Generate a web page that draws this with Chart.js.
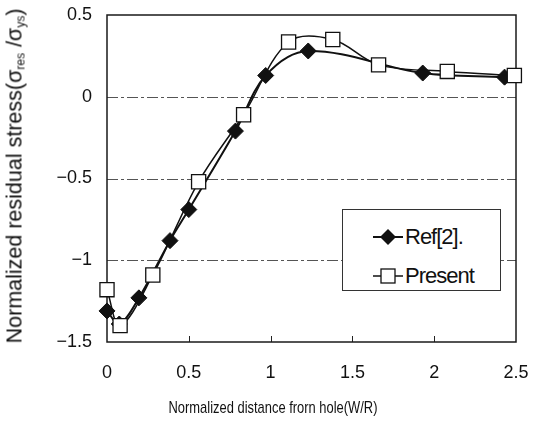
<!DOCTYPE html>
<html>
<head>
<meta charset="utf-8">
<script src="https://cdn.jsdelivr.net/npm/chart.js@4.4.0/dist/chart.umd.min.js"></script>
<style>
    html, body { margin: 0; padding: 0; background: #fff; }
    #wrap { position: relative; width: 539px; height: 421px; font-family: "Liberation Sans", Arial, sans-serif; color: #111; }
    #chart { position: absolute; left: 0; top: 0; }
    #yTitle {
        position: absolute; left: 15px; top: 176px; white-space: nowrap;
        font-size: 21.5px; transform: translate(-50%, -50%) rotate(-90deg);
    }
    #yTitle sub { font-size: 12px; vertical-align: -3px; }
    #xTitle {
        position: absolute; left: 273px; top: 408px; white-space: nowrap;
        font-size: 17px; transform: translate(-50%, -50%) scaleX(0.76);
    }
    #legend {
        position: absolute; left: 342px; top: 209px; width: 159px; height: 82px;
        border: 1px solid #333; background: #fff; box-sizing: border-box;
    }
    .item { position: absolute; left: 30px; height: 24px; display: flex; align-items: center; font-size: 22px; letter-spacing: -1px; }
    .item svg { margin-right: 2px; }
</style>
</head>
<body>
<div id="wrap">
    <canvas id="chart" width="539" height="421"></canvas>
    <div id="yTitle">Normalized residual stress(σ<sub>res</sub> /σ<sub>ys</sub>)</div>
    <div id="xTitle">Normalized distance frorn hole(W/R)</div>
    <div id="legend">
        <div class="item" style="top:15px">
            <svg width="30" height="20"><line x1="0" y1="10" x2="30" y2="10" stroke="#111" stroke-width="2"/><polygon points="15,2 23,10 15,18 7,10" fill="#111"/></svg>Ref[2].
        </div>
        <div class="item" style="top:54px">
            <svg width="30" height="20"><line x1="0" y1="10" x2="30" y2="10" stroke="#111" stroke-width="1.5"/><rect x="8" y="3" width="14" height="14" fill="#fff" stroke="#111" stroke-width="1.3"/></svg>Present
        </div>
    </div>
</div>
<script>
// Data
const refX = [0, 0.075, 0.195, 0.385, 0.5, 0.785, 0.97, 1.23, 1.93, 2.43];
const refY = [-1.31, -1.39, -1.23, -0.88, -0.69, -0.21, 0.13, 0.28, 0.145, 0.12];

const presentX = [0, 0.08, 0.28, 0.56, 0.835, 1.11, 1.38, 1.66, 2.08, 2.49];
const presentY = [-1.18, -1.40, -1.09, -0.52, -0.11, 0.335, 0.35, 0.195, 0.155, 0.13];

const xTicks = [0, 0.5, 1, 1.5, 2, 2.5];
const yTicks = [-1.5, -1, -0.5, 0, 0.5];

function toPoints(xs, ys) {
    return xs.map((x, i) => ({ x: x, y: ys[i] }));
}

function fmt(v) {
    return v < 0 ? '\u2212' + String(-v) : String(v);
}

// Frame, dash-dot gridlines and inner tick marks
const framePlugin = {
    id: 'frame',
    beforeDatasetsDraw(chart) {
        const { ctx, chartArea, scales } = chart;
        ctx.save();
        ctx.strokeStyle = '#555';
        ctx.lineWidth = 1;
        ctx.setLineDash([11, 3, 3, 3]);
        yTicks.forEach(v => {
            if (v === yTicks[0] || v === yTicks[yTicks.length - 1]) return;
            const y = Math.round(scales.y.getPixelForValue(v)) + 0.5;
            ctx.beginPath();
            ctx.moveTo(chartArea.left, y);
            ctx.lineTo(chartArea.right, y);
            ctx.stroke();
        });
        ctx.setLineDash([]);
        ctx.strokeStyle = '#222';
        ctx.lineWidth = 1;
        xTicks.slice(1, -1).forEach(v => {
            const x = Math.round(scales.x.getPixelForValue(v)) + 0.5;
            ctx.beginPath();
            ctx.moveTo(x, chartArea.bottom);
            ctx.lineTo(x, chartArea.bottom - 6);
            ctx.stroke();
        });
        ctx.lineWidth = 1.5;
        ctx.strokeStyle = '#1a1a1a';
        ctx.strokeRect(chartArea.left, chartArea.top, chartArea.right - chartArea.left, chartArea.bottom - chartArea.top);
        ctx.restore();
    }
};

new Chart(document.getElementById('chart'), {
    type: 'scatter',
    data: {
        datasets: [
            {
                label: 'Present',
                data: toPoints(presentX, presentY),
                showLine: true,
                tension: 0.35,
                borderColor: '#111',
                borderWidth: 1.5,
                pointStyle: 'rect',
                pointRadius: 10,
                pointBackgroundColor: '#fff',
                pointBorderColor: '#111',
                pointBorderWidth: 1.3,
                order: 0
            },
            {
                label: 'Ref[2].',
                data: toPoints(refX, refY),
                showLine: true,
                tension: 0.35,
                borderColor: '#111',
                borderWidth: 2,
                pointStyle: 'rectRot',
                pointRadius: 8,
                pointBackgroundColor: '#111',
                pointBorderColor: '#111',
                pointBorderWidth: 1,
                order: 1
            }
        ]
    },
    options: {
        responsive: false,
        animation: false,
        clip: false,
        layout: { padding: { left: 0, right: 23, top: 15, bottom: 0 } },
        plugins: { legend: { display: false }, tooltip: { enabled: false } },
        scales: {
            x: {
                type: 'linear',
                min: 0, max: 2.5,
                afterBuildTicks: axis => { axis.ticks = xTicks.map(v => ({ value: v })); },
                afterFit: axis => { axis.height = 79; axis.paddingLeft = 0; axis.paddingRight = 0; },
                grid: { display: false, drawTicks: false },
                border: { display: false },
                ticks: { color: '#111', padding: 20, font: { family: 'Liberation Sans', size: 18 }, callback: v => fmt(v) }
            },
            y: {
                min: -1.5, max: 0.5,
                afterBuildTicks: axis => { axis.ticks = yTicks.map(v => ({ value: v })); },
                afterFit: axis => { axis.width = 107; axis.paddingTop = 0; axis.paddingBottom = 0; },
                grid: { display: false, drawTicks: false },
                border: { display: false },
                ticks: { color: '#111', padding: 15, font: { family: 'Liberation Sans', size: 18 }, callback: v => fmt(v) }
            }
        }
    },
    plugins: [framePlugin]
});
</script>
</body>
</html>
